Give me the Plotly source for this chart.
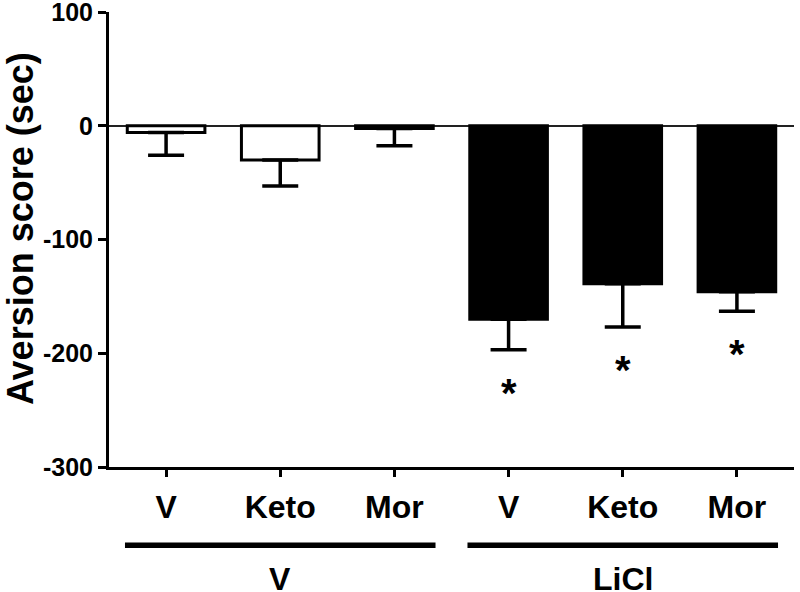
import plotly.graph_objects as go

# ---- data ----
positions = [0, 1, 2, 3, 4, 5]
tick_labels = ["V", "Keto", "Mor", "V", "Keto", "Mor"]
y_tickvals = [-300, -200, -100, 0, 100]
y_ticktext = ["-300", "-200", "-100", "0", "100"]
group_names = ["V", "LiCl"]
group_centers = [1, 4]
v_means = [-6, -30, -2.5]
v_sem = [20, 23, 15]
licl_means = [-170, -139, -146]
licl_sem = [27, 38, 17]
significant = [False, False, False, True, True, True]
y_title = "Aversion score (sec)"

FONT = "Liberation Sans"

fig = go.Figure()

fig.add_trace(go.Bar(
    x=positions[:3], y=v_means, width=0.68,
    marker=dict(color="white", line=dict(color="black", width=3)),
    error_y=dict(type="data", symmetric=False, array=[0, 0, 0], arrayminus=v_sem,
                 color="black", thickness=3.5, width=18),
    showlegend=False,
))
fig.add_trace(go.Bar(
    x=positions[3:], y=licl_means, width=0.68,
    marker=dict(color="black", line=dict(color="black", width=3)),
    error_y=dict(type="data", symmetric=False, array=[0, 0, 0], arrayminus=licl_sem,
                 color="black", thickness=3.5, width=18),
    showlegend=False,
))

# significance stars below error bars
all_means = v_means + licl_means
all_sem = v_sem + licl_sem
for xi, m, e, s in zip(positions, all_means, all_sem, significant):
    if s:
        fig.add_annotation(x=xi, y=m - e, xref="x", yref="y", text="*",
                           showarrow=False, yanchor="top", yshift=-19,
                           font=dict(family=FONT, size=40, color="black", weight="bold"))

# group lines and labels
for name, c in zip(group_names, group_centers):
    fig.add_shape(type="line", xref="x", yref="paper", x0=c - 1.36, x1=c + 1.36,
                  y0=-0.172, y1=-0.172, line=dict(color="black", width=5.5))
    fig.add_annotation(x=c, y=-0.246, xref="x", yref="paper", text=name,
                       showarrow=False, yanchor="middle",
                       font=dict(family=FONT, size=32, color="black", weight="bold"))

# y axis title
fig.add_annotation(x=-0.13, y=0.525, xref="paper", yref="paper", text=y_title,
                   textangle=-90, showarrow=False, xanchor="center", yanchor="middle",
                   font=dict(family=FONT, size=36, color="black", weight="bold"))

fig.update_layout(
    width=800, height=592,
    margin=dict(l=109, r=6, t=12, b=125),
    plot_bgcolor="white", paper_bgcolor="white",
    font=dict(family=FONT, color="black", weight="bold"),
    bargap=0.3,
)

fig.update_xaxes(
    range=[-0.5, 5.5], tickvals=positions, ticktext=tick_labels,
    showline=True, linecolor="black", linewidth=3,
    ticks="outside", ticklen=7, tickwidth=3, tickcolor="black",
    tickfont=dict(family=FONT, size=32, color="black", weight="bold"),
    ticklabelstandoff=3,
    showgrid=False, zeroline=False, automargin=False,
)
fig.update_yaxes(
    range=[-300, 100], tickvals=y_tickvals, ticktext=y_ticktext,
    showline=True, linecolor="black", linewidth=3,
    ticks="outside", ticklen=8, tickwidth=3, tickcolor="black",
    tickfont=dict(family=FONT, size=25, color="black", weight="bold"),
    ticklabeloverflow="allow",
    showgrid=False, automargin=False,
    zeroline=True, zerolinecolor="#222222", zerolinewidth=2,
)

fig.write_html("out.html", config={"displayModeBar": False},
               post_script="document.body.style.margin='0px';")
